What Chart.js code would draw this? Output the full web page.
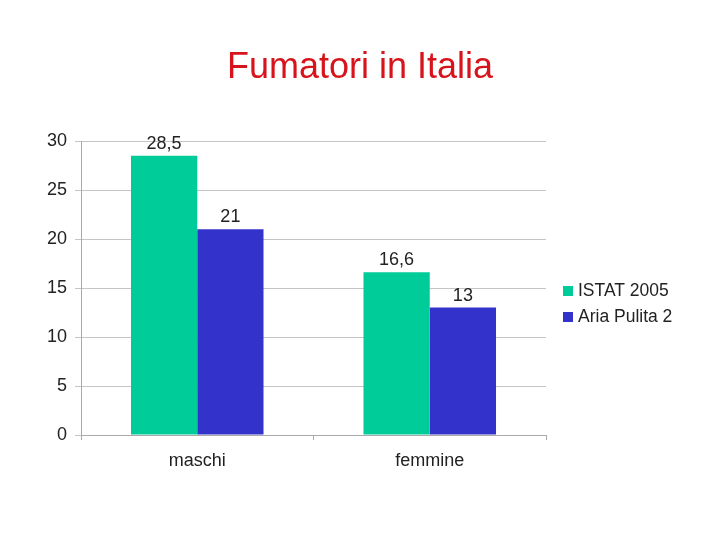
<!DOCTYPE html>
<html>
<head>
<meta charset="utf-8">
<script src="https://cdn.jsdelivr.net/npm/chart.js@4"></script>
<style>
  html, body { margin: 0; padding: 0; background: #fff; }
  #wrap { width: 720px; height: 540px; }
</style>
</head>
<body>
<div id="wrap"><canvas id="fumatori-chart" width="720" height="540"></canvas></div>
<script>
// data
const categories = ['maschi', 'femmine'];
const seriesNames = ['ISTAT 2005', 'Aria Pulita 2'];
const istat2005 = [28.5, 16.6];
const ariaPulita2 = [21, 13];
const yTicks = [0, 5, 10, 15, 20, 25, 30];

const colors = ['#00cc99', '#3333cc'];
const font = 'Liberation Sans, Arial, sans-serif';

let ctx = document.getElementById('fumatori-chart').getContext('2d');

// title, value labels and legend drawn by hand
const extras = {
    id: 'extras',
    afterDatasetsDraw(chart) {
        const c = chart.ctx;
        c.save();
        // value labels above bars, with decimal comma
        c.font = '18px ' + font;
        c.fillStyle = '#222';
        c.textAlign = 'center';
        c.textBaseline = 'bottom';
        chart.data.datasets.forEach((ds, i) => {
            chart.getDatasetMeta(i).data.forEach((bar, j) => {
                c.fillText(String(ds.data[j]).replace('.', ','), bar.x, bar.y - 3);
            });
        });
        // title
        c.font = '36px ' + font;
        c.fillStyle = '#d7141c';
        c.textBaseline = 'middle';
        c.fillText('Fumatori in Italia', 360, 68);
        // legend
        c.font = '17.5px ' + font;
        c.textAlign = 'left';
        chart.data.datasets.forEach((ds, i) => {
            const y = 291 + i * 26;
            c.fillStyle = ds.backgroundColor;
            c.fillRect(563, y - 5, 10, 10);
            c.fillStyle = '#222';
            c.fillText(ds.label, 578, y);
        });
        c.restore();
    }
};

const chartData = {
    labels: categories,
    datasets: [
        { label: seriesNames[0], data: istat2005, backgroundColor: colors[0] },
        { label: seriesNames[1], data: ariaPulita2, backgroundColor: colors[1] }
    ]
};

const config = {
    type: 'bar',
    data: chartData,
    options: {
        responsive: false,
        animation: false,
        layout: { padding: { left: 0, right: 174, top: 141, bottom: 65 } },
        datasets: { bar: { categoryPercentage: 0.57, barPercentage: 1.0 } },
        plugins: {
            legend: { display: false },
            title: { display: false },
            tooltip: { enabled: false }
        },
        scales: {
            x: {
                grid: { drawOnChartArea: false, drawTicks: true, tickLength: 5, color: '#aaaaaa' },
                border: { color: '#aaaaaa' },
                ticks: { color: '#222', font: { family: font, size: 18 }, padding: 10 },
                afterFit: s => { s.height = 40; }
            },
            y: {
                min: 0,
                max: 30,
                afterBuildTicks: s => { s.ticks = yTicks.map(v => ({ value: v })); },
                grid: { color: '#c4c4c4', tickLength: 6 },
                border: { color: '#aaaaaa' },
                ticks: { color: '#222', font: { family: font, size: 18 }, padding: 8 },
                afterFit: s => { s.width = 81; }
            }
        }
    },
    plugins: [extras]
};

const makeChart = new Chart(ctx, config);
</script>
</body>
</html>
